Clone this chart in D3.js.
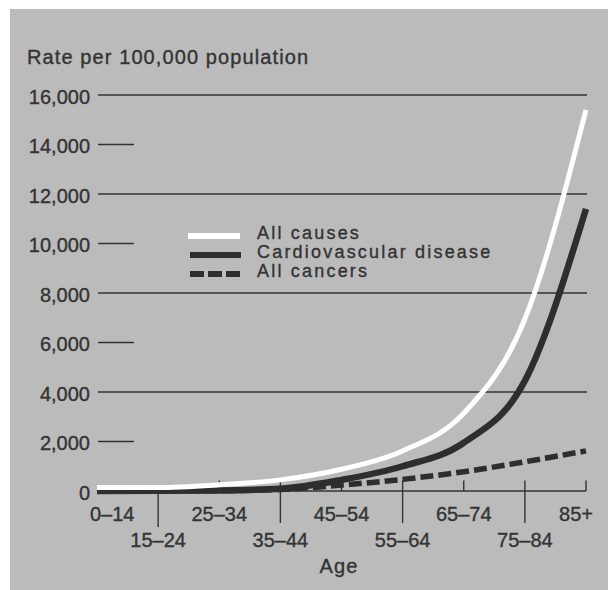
<!DOCTYPE html>
<html><head><meta charset="utf-8">
<script src="https://cdn.jsdelivr.net/npm/d3@7"></script>
<style>html,body{margin:0;padding:0;background:#fff;} svg{display:block;} text{stroke:#333333;stroke-width:0.35px;}</style>
</head><body>
<svg id="chart" width="608" height="590"></svg>
<script>
// ---- data ----
const ageGroups = ["0–14","15–24","25–34","35–44","45–54","55–64","65–74","75–84","85+"];
const allCauses      = [140, 140, 250, 450, 880, 1620, 3140, 6950, 15400];
const cardiovascular = [5, 8, 20, 90, 450, 1000, 1950, 4450, 11400];
const allCancers     = [5, 6, 14, 60, 240, 470, 780, 1180, 1620];
const yTicks = [0, 2000, 4000, 6000, 8000, 10000, 12000, 14000, 16000];
const fullGridTicks = [4000, 8000, 12000, 16000];
const seriesNames = ["All causes", "Cardiovascular disease", "All cancers"];
const yTitle = "Rate per 100,000 population";
const xTitle = "Age";

// ---- styles ----
const BG = "#bbbbbb", INK = "#333333", DARK = "#2e2e2e";
const FONT = "'Liberation Sans', Arial, Helvetica, sans-serif";

const svg = d3.select("#chart");
svg.append("rect").attr("x", 10).attr("y", 9).attr("width", 598).attr("height", 581).attr("fill", BG);

const x = d3.scalePoint().domain(ageGroups).range([97, 586]);
const y = d3.scaleLinear().domain([0, 16000]).range([491, 95]);
const fmt = d3.format(",");

// y gridlines / ticks
const g = svg.append("g");
g.selectAll("line.grid").data(yTicks.filter(d => d > 0)).join("line")
  .attr("x1", 98).attr("x2", d => fullGridTicks.includes(d) ? 587 : 134)
  .attr("y1", d => y(d)).attr("y2", d => y(d))
  .attr("stroke", INK).attr("stroke-width", 1.4);
g.selectAll("text.ylab").data(yTicks).join("text")
  .attr("x", 90).attr("y", d => y(d) + 8.5)
  .attr("text-anchor", "end")
  .attr("font-family", FONT).attr("font-size", 20).attr("fill", INK)
  .text(d => fmt(d));

// y title
svg.append("text").attr("x", 27).attr("y", 64)
  .attr("font-family", FONT).attr("font-size", 20).attr("letter-spacing", 1.1)
  .attr("fill", INK).text(yTitle);

// x axis line and ticks
const y0 = y(0);
svg.append("line").attr("x1", 97).attr("x2", 586).attr("y1", y0).attr("y2", y0)
  .attr("stroke", INK).attr("stroke-width", 1.4);
svg.selectAll("line.xdown").data(ageGroups.filter((d, i) => i % 2 === 1)).join("line")
  .attr("x1", d => x(d)).attr("x2", d => x(d))
  .attr("y1", y0).attr("y2", (d) => ageGroups.indexOf(d) === 1 ? 527 : 523)
  .attr("stroke", INK).attr("stroke-width", 1.4);
svg.selectAll("line.xup").data(ageGroups.filter((d, i) => i >= 2)).join("line")
  .attr("x1", d => x(d)).attr("x2", d => x(d))
  .attr("y1", y0).attr("y2", y0 - 10.5)
  .attr("stroke", INK).attr("stroke-width", 1.4);

// x labels (two staggered rows)
svg.selectAll("text.xlab").data(ageGroups).join("text")
  .attr("x", (d, i) => i === 0 ? x(d) - 7 : (i === ageGroups.length - 1 ? x(d) + 7 : x(d)))
  .attr("y", (d, i) => i % 2 === 0 ? 521 : 547)
  .attr("text-anchor", (d, i) => i === 0 ? "start" : (i === ageGroups.length - 1 ? "end" : "middle"))
  .attr("font-family", FONT).attr("font-size", 20).attr("fill", INK)
  .text(d => d);
svg.append("text").attr("x", 339).attr("y", 573).attr("text-anchor", "middle")
  .attr("font-family", FONT).attr("font-size", 20).attr("letter-spacing", 1.2)
  .attr("fill", INK).text(xTitle);

// series lines
const line = d3.line().x((d, i) => x(ageGroups[i])).y(d => y(d)).curve(d3.curveMonotoneX);
svg.append("path").datum(allCancers).attr("d", line)
  .attr("fill", "none").attr("stroke", DARK).attr("stroke-width", 5.5)
  .attr("stroke-dasharray", "13,5");
svg.append("path").datum(cardiovascular).attr("d", line)
  .attr("fill", "none").attr("stroke", DARK).attr("stroke-width", 6.5);
svg.append("path").datum(allCauses).attr("d", line)
  .attr("fill", "none").attr("stroke", "#ffffff").attr("stroke-width", 5);

// legend
const legY = [236, 255, 274];
const leg = svg.append("g");
leg.append("line").attr("x1", 188).attr("x2", 240).attr("y1", legY[0]).attr("y2", legY[0])
  .attr("stroke", "#fff").attr("stroke-width", 6);
leg.append("line").attr("x1", 190).attr("x2", 241).attr("y1", legY[1]).attr("y2", legY[1])
  .attr("stroke", DARK).attr("stroke-width", 6);
leg.append("line").attr("x1", 190).attr("x2", 241).attr("y1", legY[2]).attr("y2", legY[2])
  .attr("stroke", DARK).attr("stroke-width", 6).attr("stroke-dasharray", "14,4");
leg.selectAll("text").data(seriesNames).join("text")
  .attr("x", 257).attr("y", (d, i) => legY[i] + 2.5)
  .attr("font-family", FONT).attr("font-size", 18).attr("letter-spacing", 2.2)
  .attr("fill", INK).text(d => d);
</script>
</body></html>
